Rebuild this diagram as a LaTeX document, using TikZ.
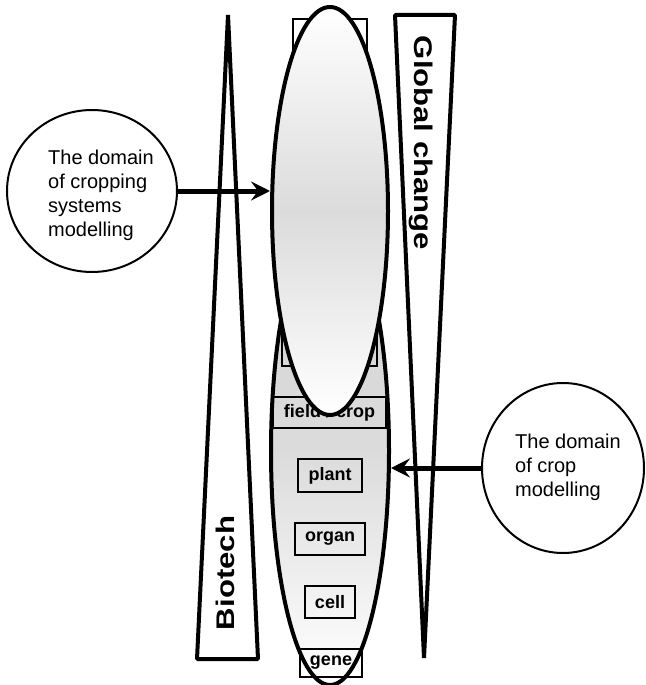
\documentclass[tikz,border=0pt]{standalone}
\usepackage{fontspec}
\setmainfont{Liberation Sans}
\usetikzlibrary{shapes.geometric,arrows.meta}
\begin{document}
\begin{tikzpicture}[x=1pt,y=-1pt,
  wedge/.style={draw, line width=4pt, fill=white, line join=bevel},
  wedgelabel/.style={inner sep=0pt, font=\bfseries\fontsize{25.5}{25}\selectfont},
  domaincircle/.style={draw, ellipse, line width=2pt, inner sep=0pt, fill=white},
  domaintext/.style={align=left, inner sep=0pt, anchor=west, font=\fontsize{20}{24}\selectfont},
  lens/.style={draw, ellipse, line width=4pt, inner sep=0pt},
  levelbox/.style={draw, line width=1.5pt, inner sep=0pt, font=\bfseries\fontsize{18}{20}\selectfont},
  feed/.style={line width=5pt, -{Stealth[length=19pt,width=19pt,inset=7pt]}},
]
\useasboundingbox (0,0) rectangle (645,685);

% the two wedges: biotechnology (widening downwards) and global change (widening upwards)
\draw[wedge] (228,15) -- (258,659) -- (197,659) -- cycle;
\node[wedgelabel, rotate=90] (biotech) at (225,573) {\scalebox{1.22}[1]{Biotech}};
\draw[wedge] (395,15) -- (455,15) -- (424,658) -- cycle;
\node[wedgelabel, rotate=-90] (global) at (421,143) {\scalebox{1.22}[1]{Global change}};

% the two modelling domains
\node[domaincircle, minimum width=170pt, minimum height=162pt] (cropsys) at (92,191) {};
\node[domaintext] (cropsystext) at (48,195) {The domain\\of cropping\\systems\\modelling};
\node[domaincircle, minimum width=162pt, minimum height=170pt] (cropc) at (563,468) {};
\node[domaintext] (cropctext) at (515,467) {The domain\\of crop\\modelling};

% lower lens: crop modelling scales
\node[lens, minimum width=118pt, minimum height=468pt,
      top color=black!17, bottom color=white, middle color=black!14] (lower) at (330,451) {};

% levels of organisation
\node[levelbox, minimum width=74pt, minimum height=51pt] (topbox) at (330,44.5) {};
\node[levelbox, minimum width=95pt, minimum height=46pt] (midbox) at (329.5,343) {};
\node[levelbox, minimum width=113pt, minimum height=31pt] (field) at (329.5,412.5) {field / crop};
\node[levelbox, minimum width=64pt, minimum height=33pt] (plant) at (330,475.5) {plant};
\node[levelbox, minimum width=70pt, minimum height=32pt] (organ) at (330,539) {organ};
\node[levelbox, minimum width=50pt, minimum height=32pt] (cell) at (330,602) {cell};
\node[levelbox, minimum width=62pt, minimum height=28pt] (gene) at (331,663) {gene};

% upper lens: cropping systems scales
\node[lens, minimum width=116pt, minimum height=408pt,
      top color=white, bottom color=white, middle color=black!14] (upper) at (330,211) {};

% pointers from the domains to their lenses
\draw[feed] (cropsys.east) -- (cropsys.east -| upper.west);
\draw[feed] (cropc.west) -- (cropc.west -| lower.east);
\end{tikzpicture}
\end{document}
